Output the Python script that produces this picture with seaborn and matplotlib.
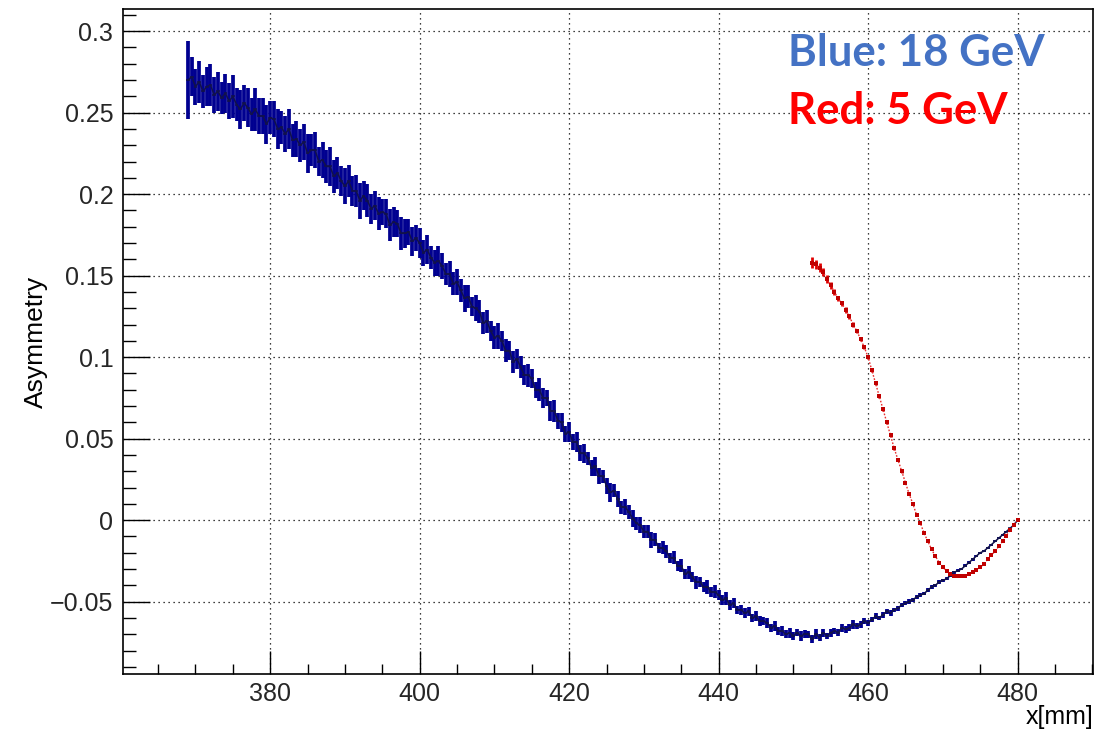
import numpy as np
import matplotlib
matplotlib.use("Agg")
import matplotlib.pyplot as plt
import seaborn as sns
from matplotlib.ticker import MultipleLocator, FuncFormatter

# ---------------- data ----------------
# Blue: 18 GeV, bins every 0.5 mm from 369.0 to 480.0
blue_x_start = 369.0
blue_x_step = 0.5
blue_y = [
    0.270, 0.272, 0.266, 0.269, 0.263, 0.266, 0.267, 0.261, 0.263, 0.259,
    0.262, 0.257, 0.260, 0.255, 0.252, 0.256, 0.253, 0.249, 0.252, 0.248,
    0.248, 0.243, 0.247, 0.246, 0.240, 0.241, 0.237, 0.240, 0.233, 0.234,
    0.230, 0.232, 0.225, 0.227, 0.227, 0.220, 0.221, 0.217, 0.217, 0.211,
    0.213, 0.208, 0.205, 0.208, 0.202, 0.202, 0.196, 0.199, 0.196, 0.191,
    0.193, 0.188, 0.189, 0.188, 0.181, 0.183, 0.182, 0.176, 0.176, 0.177,
    0.171, 0.173, 0.170, 0.164, 0.166, 0.161, 0.158, 0.159, 0.156, 0.151,
    0.151, 0.145, 0.146, 0.141, 0.136, 0.137, 0.131, 0.130, 0.128, 0.121,
    0.122, 0.116, 0.112, 0.113, 0.110, 0.104, 0.104, 0.097, 0.099, 0.094,
    0.089, 0.089, 0.087, 0.080, 0.080, 0.075, 0.075, 0.067, 0.067, 0.061,
    0.060, 0.053, 0.054, 0.048, 0.048, 0.041, 0.041, 0.038, 0.032, 0.033,
    0.027, 0.027, 0.021, 0.017, 0.018, 0.013, 0.008, 0.008, 0.005, 0.001,
    -0.002, -0.003, -0.007, -0.007, -0.012, -0.012, -0.017, -0.017, -0.019, -0.023,
    -0.023, -0.028, -0.028, -0.033, -0.032, -0.035, -0.038, -0.038, -0.041, -0.041,
    -0.044, -0.044, -0.046, -0.049, -0.048, -0.052, -0.051, -0.055, -0.055, -0.057,
    -0.056, -0.060, -0.059, -0.062, -0.062, -0.063, -0.066, -0.065, -0.068, -0.068,
    -0.070, -0.069, -0.071, -0.069, -0.071, -0.070, -0.070, -0.073, -0.070, -0.072,
    -0.069, -0.071, -0.069, -0.068, -0.069, -0.066, -0.067, -0.066, -0.064, -0.065,
    -0.064, -0.062, -0.063, -0.061, -0.059, -0.060, -0.058, -0.056, -0.057, -0.055,
    -0.054, -0.052, -0.051, -0.050, -0.049, -0.047, -0.046, -0.045, -0.043, -0.041,
    -0.040, -0.038, -0.037, -0.036, -0.034, -0.032, -0.031, -0.030, -0.028, -0.026,
    -0.024, -0.022, -0.020, -0.019, -0.017, -0.015, -0.013, -0.011, -0.009, -0.007,
    -0.005, -0.003, 0.000,
]
blue_err = [
    0.024, 0.012, 0.011, 0.013, 0.010, 0.012, 0.013, 0.011, 0.012, 0.010,
    0.012, 0.011, 0.013, 0.010, 0.012, 0.011, 0.012, 0.010, 0.013, 0.011,
    0.011, 0.012, 0.010, 0.011, 0.012, 0.010, 0.011, 0.012, 0.010, 0.011,
    0.010, 0.011, 0.012, 0.010, 0.011, 0.009, 0.011, 0.010, 0.012, 0.010,
    0.010, 0.009, 0.011, 0.010, 0.009, 0.010, 0.011, 0.009, 0.010, 0.009,
    0.009, 0.010, 0.008, 0.009, 0.010, 0.009, 0.008, 0.010, 0.009, 0.008,
    0.009, 0.008, 0.009, 0.008, 0.009, 0.007, 0.008, 0.009, 0.008, 0.007,
    0.008, 0.007, 0.008, 0.007, 0.008, 0.007, 0.006, 0.008, 0.007, 0.007,
    0.007, 0.006, 0.007, 0.008, 0.006, 0.007, 0.006, 0.007, 0.006, 0.007,
    0.006, 0.007, 0.006, 0.005, 0.007, 0.006, 0.005, 0.006, 0.007, 0.005,
    0.006, 0.005, 0.006, 0.005, 0.006, 0.005, 0.006, 0.004, 0.005, 0.006,
    0.005, 0.004, 0.005, 0.006, 0.004, 0.005, 0.004, 0.005, 0.004, 0.005,
    0.004, 0.005, 0.004, 0.004, 0.005, 0.004, 0.003, 0.004, 0.004, 0.003,
    0.004, 0.003, 0.004, 0.003, 0.004, 0.003, 0.004, 0.003, 0.003, 0.004,
    0.003, 0.004, 0.003, 0.003, 0.004, 0.003, 0.003, 0.0025, 0.003, 0.003,
    0.003, 0.0025, 0.003, 0.003, 0.0025, 0.003, 0.0025, 0.003, 0.0025, 0.003,
    0.0025, 0.003, 0.0025, 0.002, 0.003, 0.0025, 0.002, 0.0025, 0.003, 0.002,
    0.0025, 0.002, 0.0025, 0.002, 0.002, 0.0025, 0.002, 0.002, 0.0025, 0.002,
    0.002, 0.0018, 0.002, 0.0016, 0.0018, 0.0015, 0.0018, 0.0015, 0.0016, 0.0014,
    0.0015, 0.0014, 0.0013, 0.0014, 0.0012, 0.0013, 0.0012, 0.0011, 0.0012, 0.0011,
    0.0011, 0.0010, 0.0010, 0.0009, 0.0010, 0.0009, 0.0009, 0.0008, 0.0008, 0.0008,
    0.0008, 0.0007, 0.0007, 0.0007, 0.0006, 0.0006, 0.0006, 0.0005, 0.0005, 0.0005,
    0.0004, 0.0004, 0.0003,
]

# Red: 5 GeV, bins every 0.5 mm from 452.5 to 480.0
red_x_start = 452.5
red_x_step = 0.5
red_y = [
    0.158, 0.157, 0.155, 0.152, 0.148, 0.144, 0.140, 0.136, 0.133, 0.129,
    0.125, 0.120, 0.116, 0.111, 0.106, 0.100, 0.092, 0.084, 0.076, 0.068,
    0.060, 0.052, 0.044, 0.037, 0.030, 0.023, 0.016, 0.010, 0.003, -0.002,
    -0.008, -0.013, -0.018, -0.022, -0.026, -0.029, -0.031, -0.033, -0.034, -0.0345,
    -0.0345, -0.034, -0.033, -0.032, -0.0305, -0.029, -0.027, -0.024, -0.0215, -0.019,
    -0.016, -0.013, -0.0095, -0.006, -0.003, 0.000,
]
red_err = [
    0.0035, 0.0028, 0.0026, 0.0024, 0.0022, 0.0020, 0.0019, 0.0018, 0.0017, 0.0016,
    0.0015, 0.0014, 0.0013, 0.0012, 0.0012, 0.0011, 0.0011, 0.0010, 0.0010, 0.0009,
    0.0009, 0.0009, 0.0008, 0.0008, 0.0008, 0.0007, 0.0007, 0.0007, 0.0007, 0.0006,
    0.0006, 0.0006, 0.0006, 0.0006, 0.0005, 0.0005, 0.0005, 0.0005, 0.0005, 0.0005,
    0.0005, 0.0005, 0.0005, 0.0005, 0.0005, 0.0004, 0.0004, 0.0004, 0.0004, 0.0004,
    0.0004, 0.0004, 0.0003, 0.0003, 0.0003, 0.0003,
]

x_label = "x[mm]"
y_label = "Asymmetry"
label_blue = "Blue: 18 GeV"
label_red = "Red: 5 GeV"

# ---------------- style ----------------
sns.set_theme(style="white")
plt.rcParams["font.family"] = ["Liberation Sans", "DejaVu Sans"]

blue_x = blue_x_start + blue_x_step * np.arange(len(blue_y))
red_x = red_x_start + red_x_step * np.arange(len(red_y))

fig = plt.figure(figsize=(11.09, 7.32), dpi=100)
ax = fig.add_axes([0.1109, 0.0792, 0.8747, 0.9085])

# grid (dotted, ROOT style)
ax.set_axisbelow(True)
ax.grid(True, which="major", color="black", linestyle=(0, (1, 3)), linewidth=0.9)

# blue points with error bars (dense band)
ax.errorbar(blue_x, blue_y, yerr=blue_err, fmt="none", ecolor="#000090",
            elinewidth=2.7, capsize=0, zorder=3)
sns.lineplot(x=blue_x, y=blue_y, ax=ax, color="#12124a", linewidth=1.1,
             zorder=4, legend=False)
ax.errorbar(blue_x, blue_y, xerr=blue_x_step / 2, fmt="none", ecolor="#12124a",
            elinewidth=1.1, capsize=0, zorder=4)

# red points with error bars
ax.errorbar(red_x, red_y, yerr=red_err, fmt="none", ecolor="#e00000",
            elinewidth=2.0, capsize=0, zorder=5)
sns.lineplot(x=red_x, y=red_y, ax=ax, color="#e83030", linewidth=1.0,
             linestyle=(0, (1.2, 1.2)), zorder=5, legend=False)
sns.scatterplot(x=red_x, y=red_y, ax=ax, color="#c00000", marker="s", s=5,
                linewidth=0, zorder=6, legend=False)

# axes limits / ticks
ax.set_xlim(360.3, 490.1)
ax.set_ylim(-0.0944, 0.3136)
ax.xaxis.set_major_locator(MultipleLocator(20))
ax.xaxis.set_minor_locator(MultipleLocator(5))
ax.yaxis.set_major_locator(MultipleLocator(0.05))
ax.yaxis.set_minor_locator(MultipleLocator(0.01))


def yfmt(v, pos):
    if abs(v) < 1e-9:
        return "0"
    s = ("%.2f" % v).rstrip("0").rstrip(".")
    return s.replace("-", "\u2212")


ax.yaxis.set_major_formatter(FuncFormatter(yfmt))
ax.tick_params(axis="x", which="major", direction="in", length=16.5, width=1.0,
               labelsize=18, pad=6, color="black", bottom=True, top=False)
ax.tick_params(axis="x", which="minor", direction="in", length=7.5, width=1.0,
               color="black", bottom=True, top=False)
ax.tick_params(axis="y", which="major", direction="in", length=19.5, width=1.0,
               labelsize=18, pad=7, color="black", left=True, right=False)
ax.tick_params(axis="y", which="minor", direction="in", length=9.5, width=1.0,
               color="black", left=True, right=False)

for sp in ax.spines.values():
    sp.set_visible(True)
    sp.set_color("black")
    sp.set_linewidth(1.2)

ax.set_ylabel(y_label, fontsize=19, color="black")
ax.yaxis.set_label_coords(-0.077, 0.5)
ax.set_xlabel(x_label, fontsize=18, color="black", ha="right", va="top")
ax.xaxis.set_label_coords(1.0, -0.046)

# annotation texts
ax.text(0.6856, 0.934, label_blue, transform=ax.transAxes, color="#4472C4",
        fontsize=31.5, fontweight="bold", family=["Lato", "DejaVu Sans"],
        ha="left", va="center", zorder=7)
ax.text(0.6856, 0.847, label_red, transform=ax.transAxes, color="#FF0000",
        fontsize=31.5, fontweight="bold", family=["Lato", "DejaVu Sans"],
        ha="left", va="center", zorder=7)

fig.savefig("out.png", dpi=100, facecolor="white")
